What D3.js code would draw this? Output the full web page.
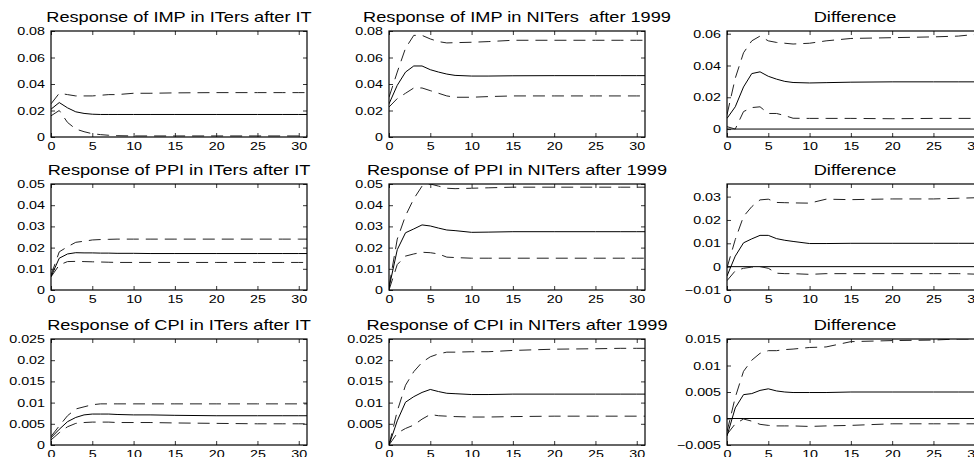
<!DOCTYPE html>
<html>
<head>
<meta charset="utf-8">
<script src="https://cdn.jsdelivr.net/npm/d3@7"></script>
<style>
  body { margin: 0; background: #fff; }
  svg { display: block; }
  text { font-family: "Liberation Sans", Arial, sans-serif; fill: #000; }
</style>
</head>
<body>
<div id="chart"></div>
<script>
const steps = [0, 1, 2, 3, 4, 5, 6, 7, 8, 10, 12, 15, 20, 25, 28, 30, 31];
const xTicks = [0, 5, 10, 15, 20, 25, 30];

// IMP
const impIT_mid = [0.021, 0.026, 0.022, 0.019, 0.0178, 0.0172, 0.017, 0.017, 0.017, 0.017, 0.017, 0.017, 0.017, 0.017, 0.017, 0.017, 0.017];
const impIT_hi  = [0.025, 0.033, 0.032, 0.031, 0.031, 0.031, 0.0315, 0.032, 0.032, 0.033, 0.033, 0.0333, 0.0335, 0.0335, 0.0335, 0.0335, 0.0335];
const impIT_lo  = [0.016, 0.020, 0.011, 0.006, 0.004, 0.0025, 0.0018, 0.0013, 0.001, 0.0008, 0.0008, 0.0008, 0.0008, 0.0008, 0.0008, 0.0008, 0.0008];

const impNIT_mid = [0.025, 0.039, 0.049, 0.0536, 0.0536, 0.0508, 0.049, 0.0475, 0.0465, 0.046, 0.046, 0.0462, 0.0463, 0.0463, 0.0463, 0.0463, 0.0463];
const impNIT_hi  = [0.030, 0.049, 0.067, 0.0767, 0.0767, 0.074, 0.072, 0.071, 0.0712, 0.0715, 0.072, 0.073, 0.073, 0.073, 0.073, 0.073, 0.073];
const impNIT_lo  = [0.0226, 0.029, 0.033, 0.037, 0.037, 0.035, 0.033, 0.031, 0.030, 0.030, 0.0305, 0.031, 0.031, 0.031, 0.031, 0.031, 0.031];

const impDiff_mid = [0.0067, 0.014, 0.0265, 0.0349, 0.036, 0.0332, 0.0314, 0.030, 0.0293, 0.029, 0.0292, 0.0295, 0.0297, 0.0297, 0.0297, 0.0297, 0.0297];
const impDiff_hi  = [0.009, 0.032, 0.048, 0.0555, 0.0585, 0.0555, 0.0545, 0.054, 0.0535, 0.054, 0.0555, 0.057, 0.0575, 0.058, 0.0585, 0.0595, 0.058];
const impDiff_lo  = [0.0015, 0.0, 0.011, 0.0135, 0.014, 0.0098, 0.0098, 0.0085, 0.0068, 0.0067, 0.0067, 0.0067, 0.0065, 0.0067, 0.0067, 0.0067, 0.0067];

// PPI
const ppiIT_mid = [0.0063, 0.015, 0.017, 0.0176, 0.0175, 0.0175, 0.0174, 0.0174, 0.0173, 0.0173, 0.0172, 0.0172, 0.0172, 0.0172, 0.0172, 0.0172, 0.0172];
const ppiIT_hi  = [0.007, 0.018, 0.0204, 0.0225, 0.023, 0.0236, 0.0238, 0.0239, 0.024, 0.024, 0.024, 0.024, 0.024, 0.024, 0.024, 0.024, 0.024];
const ppiIT_lo  = [0.0062, 0.0118, 0.0134, 0.0135, 0.0134, 0.0133, 0.0132, 0.0131, 0.013, 0.013, 0.013, 0.013, 0.013, 0.013, 0.013, 0.013, 0.013];

const ppiNIT_mid = [0.001, 0.019, 0.027, 0.0288, 0.0307, 0.0302, 0.0292, 0.0283, 0.028, 0.0272, 0.0273, 0.0275, 0.0275, 0.0275, 0.0275, 0.0275, 0.0275];
const ppiNIT_hi  = [0.0016, 0.024, 0.035, 0.043, 0.049, 0.050, 0.049, 0.048, 0.0478, 0.048, 0.0482, 0.0485, 0.0485, 0.0485, 0.0485, 0.0485, 0.0485];
const ppiNIT_lo  = [0.0, 0.012, 0.016, 0.017, 0.0178, 0.0176, 0.017, 0.0155, 0.0153, 0.015, 0.015, 0.015, 0.015, 0.015, 0.015, 0.015, 0.015];

const ppiDiff_mid = [-0.004, 0.0045, 0.0102, 0.0119, 0.0134, 0.0134, 0.012, 0.0113, 0.0108, 0.0099, 0.0099, 0.01, 0.01, 0.01, 0.01, 0.01, 0.01];
const ppiDiff_hi  = [-0.0005, 0.0116, 0.0215, 0.0257, 0.0286, 0.0289, 0.0275, 0.0274, 0.0273, 0.0272, 0.0289, 0.0287, 0.029, 0.029, 0.0293, 0.0295, 0.0296];
const ppiDiff_lo  = [-0.006, -0.0018, -0.0007, -0.0002, 0.0, -0.0007, -0.0028, -0.003, -0.003, -0.0033, -0.003, -0.003, -0.003, -0.003, -0.003, -0.0032, -0.0033];

// CPI
const cpiIT_mid = [0.0017, 0.0037, 0.0055, 0.0065, 0.0071, 0.0073, 0.0073, 0.0073, 0.0072, 0.0071, 0.0071, 0.007, 0.0069, 0.0069, 0.0069, 0.0069, 0.0069];
const cpiIT_hi  = [0.002, 0.0045, 0.0069, 0.0085, 0.009, 0.0095, 0.0097, 0.0097, 0.0097, 0.0097, 0.0097, 0.0097, 0.0097, 0.0097, 0.0097, 0.0097, 0.0097];
const cpiIT_lo  = [0.0012, 0.0029, 0.0043, 0.0051, 0.0053, 0.0054, 0.0054, 0.0054, 0.0053, 0.0053, 0.0053, 0.0052, 0.0051, 0.005, 0.005, 0.005, 0.005];

const cpiNIT_mid = [0.0, 0.0057, 0.0101, 0.0114, 0.0124, 0.0131, 0.0126, 0.0122, 0.0121, 0.0119, 0.0119, 0.012, 0.012, 0.012, 0.012, 0.012, 0.012];
const cpiNIT_hi  = [0.0, 0.008, 0.0141, 0.0173, 0.0195, 0.0208, 0.0215, 0.0219, 0.0219, 0.022, 0.022, 0.0223, 0.0226, 0.0227, 0.0228, 0.0228, 0.0228];
const cpiNIT_lo  = [0.0, 0.0028, 0.0039, 0.0047, 0.0061, 0.0072, 0.0069, 0.0068, 0.0067, 0.0066, 0.0066, 0.0067, 0.0068, 0.0068, 0.0068, 0.0068, 0.0068];

const cpiDiff_mid = [-0.0033, 0.002, 0.0045, 0.0047, 0.0053, 0.0056, 0.0052, 0.005, 0.0049, 0.0049, 0.0049, 0.005, 0.005, 0.005, 0.005, 0.005, 0.005];
const cpiDiff_hi  = [-0.0025, 0.004, 0.0089, 0.011, 0.0123, 0.0128, 0.0128, 0.013, 0.0131, 0.0134, 0.0135, 0.0145, 0.0147, 0.0148, 0.015, 0.015, 0.015];
const cpiDiff_lo  = [-0.003, -0.001, -0.0001, -0.0005, -0.0011, -0.0013, -0.0014, -0.0014, -0.0014, -0.0015, -0.0014, -0.0013, -0.001, -0.001, -0.001, -0.001, -0.001];

// titles, y ranges and y tick labels, row by row
const titles = [
  "Response of IMP in ITers after IT", "Response of IMP in NITers  after 1999", "Difference",
  "Response of PPI in ITers after IT", "Response of PPI in NITers after 1999", "Difference",
  "Response of CPI in ITers after IT", "Response of CPI in NITers after 1999", "Difference"
];
const yDomains = [
  [0, 0.08], [0, 0.08], [-0.005, 0.0617],
  [0, 0.05], [0, 0.05], [-0.01, 0.0354],
  [0, 0.025], [0, 0.025], [-0.005, 0.015]
];
const yTicks = [
  [0, 0.02, 0.04, 0.06, 0.08], [0, 0.02, 0.04, 0.06, 0.08], [0, 0.02, 0.04, 0.06],
  [0, 0.01, 0.02, 0.03, 0.04, 0.05], [0, 0.01, 0.02, 0.03, 0.04, 0.05], [-0.01, 0, 0.01, 0.02, 0.03],
  [0, 0.005, 0.01, 0.015, 0.02, 0.025], [0, 0.005, 0.01, 0.015, 0.02, 0.025], [-0.005, 0, 0.005, 0.01, 0.015]
];
const mids = [impIT_mid, impNIT_mid, impDiff_mid, ppiIT_mid, ppiNIT_mid, ppiDiff_mid, cpiIT_mid, cpiNIT_mid, cpiDiff_mid];
const his  = [impIT_hi, impNIT_hi, impDiff_hi, ppiIT_hi, ppiNIT_hi, ppiDiff_hi, cpiIT_hi, cpiNIT_hi, cpiDiff_hi];
const los  = [impIT_lo, impNIT_lo, impDiff_lo, ppiIT_lo, ppiNIT_lo, ppiDiff_lo, cpiIT_lo, cpiNIT_lo, cpiDiff_lo];

const W = 974, H = 457;
const colX = [51, 389, 727], rowY = [31, 184, 339];
const plotW = 256, plotH = 106;
const stretch = 1.3;   // the original picture is wider than tall, text is stretched too

const svg = d3.select("#chart").append("svg")
  .attr("width", W).attr("height", H);

function fmt(d) {
  var s = String(+d.toFixed(4));
  return s.replace("-", "\u2212");
}

function drawPanel(i) {
  var left = colX[i % 3], top = rowY[Math.floor(i / 3)];
  var isDiff = (i % 3) == 2;

  var x = d3.scaleLinear().domain([0, 31]).range([0, plotW]);
  var y = d3.scaleLinear().domain(yDomains[i]).range([plotH, 0]);

  var g = svg.append("g").attr("transform", `translate(${left},${top})`);

  g.append("clipPath").attr("id", "clip" + i)
    .append("rect").attr("width", plotW).attr("height", plotH);

  // title
  g.append("text")
    .attr("transform", `translate(${plotW / 2},-9) scale(${stretch},1)`)
    .attr("text-anchor", "middle")
    .style("font-size", "14px")
    .style("white-space", "pre")
    .text(titles[i]);

  // axes, ticks pointing inwards like matlab
  var ax = g.append("g").attr("transform", `translate(0,${plotH})`)
    .call(d3.axisBottom(x).tickValues(xTicks).tickSizeInner(-4).tickSizeOuter(0).tickFormat(d3.format("d")));
  ax.selectAll("text")
    .attr("y", 5)
    .attr("transform", `scale(${stretch},1)`)
    .style("font-size", "11px");

  var ay = g.append("g")
    .call(d3.axisLeft(y).tickValues(yTicks[i]).tickSizeInner(-4).tickSizeOuter(0).tickFormat(fmt));
  ay.selectAll("text")
    .attr("x", -6 / stretch)
    .attr("transform", `scale(${stretch},1)`)
    .style("font-size", "11px");

  g.append("g")
    .call(d3.axisTop(x).tickValues(xTicks).tickSizeInner(-4).tickSizeOuter(0).tickFormat(""));
  g.append("g").attr("transform", `translate(${plotW},0)`)
    .call(d3.axisRight(y).tickValues(yTicks[i]).tickSizeInner(-4).tickSizeOuter(0).tickFormat(""));

  g.selectAll(".domain").remove();
  g.selectAll(".tick line").attr("stroke", "#000").attr("stroke-width", 0.8);

  var plot = g.append("g").attr("clip-path", `url(#clip${i})`);

  if (isDiff) {
    plot.append("line")
      .attr("x1", 0).attr("x2", plotW)
      .attr("y1", y(0)).attr("y2", y(0))
      .attr("stroke", "#000").attr("stroke-width", 1);
  }

  var line = d3.line()
    .x(function(d, k) { return x(steps[k]); })
    .y(function(d) { return y(d); });

  plot.append("path").datum(his[i])
    .attr("d", line).attr("fill", "none")
    .attr("stroke", "#222").attr("stroke-width", 1)
    .attr("stroke-dasharray", "12,7");
  plot.append("path").datum(los[i])
    .attr("d", line).attr("fill", "none")
    .attr("stroke", "#222").attr("stroke-width", 1)
    .attr("stroke-dasharray", "12,7");
  plot.append("path").datum(mids[i])
    .attr("d", line).attr("fill", "none")
    .attr("stroke", "#000").attr("stroke-width", 1);

  // box
  g.append("rect")
    .attr("width", plotW).attr("height", plotH)
    .attr("fill", "none").attr("stroke", "#000").attr("stroke-width", 1.2);
}

for (var i = 0; i < 9; i++) {
  drawPanel(i);
}
</script>
</body>
</html>
